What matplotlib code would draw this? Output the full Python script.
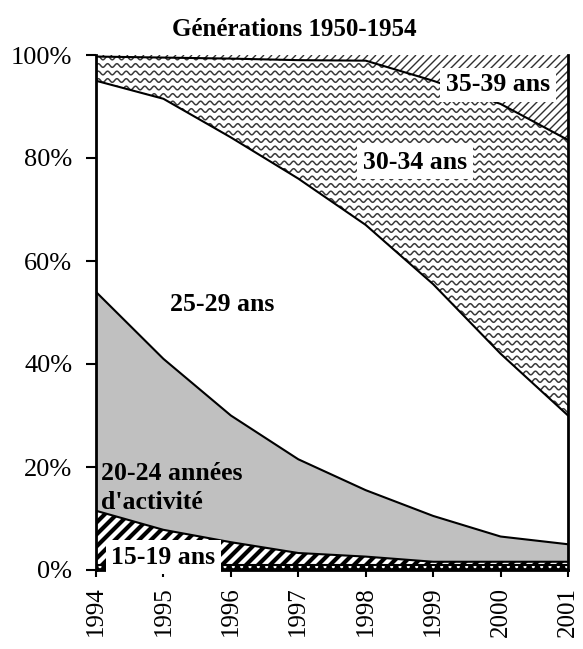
import numpy as np
import matplotlib
matplotlib.use("Agg")
import matplotlib.pyplot as plt
from matplotlib.collections import LineCollection

plt.rcParams['font.family'] = ['Liberation Serif', 'DejaVu Serif']

# years and share (%) of each activity-duration group, stacked bottom to top
years = [1994, 1995, 1996, 1997, 1998, 1999, 2000, 2001]
lt15 = [1.0, 1.0, 1.0, 1.0, 1.0, 1.0, 1.0, 1.0]
a15_19 = [10.5, 6.8, 4.4, 2.3, 1.6, 0.6, 0.6, 0.6]
a20_24 = [42.5, 33.2, 24.6, 18.2, 12.9, 8.9, 4.9, 3.4]
a25_29 = [41.0, 50.5, 54.0, 54.5, 51.5, 45.0, 35.5, 25.0]
a30_34 = [4.7, 8.0, 15.3, 23.0, 31.9, 39.5, 48.5, 53.5]
a35_39 = [0.3, 0.5, 0.7, 1.0, 1.1, 5.0, 9.5, 16.5]

W, H = 583, 649
fig = plt.figure(figsize=(W / 100, H / 100), dpi=100)
L, R, T, B = 96, 568, 55, 570
ax = fig.add_axes([L / W, 1 - B / H, (R - L) / W, (B - T) / H])
pw, ph = R - L, B - T  # axes size in pixels

x = np.array(years)
layers = [lt15, a15_19, a20_24, a25_29, a30_34, a35_39]
cum = np.cumsum(np.array(layers), axis=0)
lows = np.vstack([np.zeros(len(years)), cum[:-1]])

fills = []
for lo, hi in zip(lows, cum):
    fills.append(ax.fill_between(x, lo, hi, facecolor='white', edgecolor='none', zorder=1))

# bottom thin layer: black with white dots
fills[0].set_facecolor('black')
fills[0].set_edgecolor('white')
fills[0].set_hatch('..')
fills[0].set_linewidth(0)
fills[2].set_facecolor('#c0c0c0')


def clip_to(coll, fill):
    coll.set_clip_path(fill.get_paths()[0], ax.transData)


# 15-19: thick black diagonal stripes
segs = []
for x0 in np.arange(-ph, pw, 12):
    segs.append([(x0 / pw, 0), ((x0 + ph) / pw, 1)])
lc = LineCollection(segs, colors='black', linewidths=3.0, transform=ax.transAxes, zorder=2)
ax.add_collection(lc)
clip_to(lc, fills[1])

# 30-34: wavy lines
xs = np.arange(0, pw + 1, 0.5)
segs = []
for y0 in np.arange(2, ph, 7.5):
    ys = y0 + 1.8 * np.sin(2 * np.pi * xs / 9.3)
    segs.append(np.column_stack([xs / pw, ys / ph]))
lc = LineCollection(segs, colors='#3a3a3a', linewidths=1.1, transform=ax.transAxes, zorder=2)
ax.add_collection(lc)
clip_to(lc, fills[4])

# 35-39: thin diagonal lines
segs = []
for x0 in np.arange(-ph, pw, 8):
    segs.append([(x0 / pw, 0), ((x0 + ph) / pw, 1)])
lc = LineCollection(segs, colors='#303030', linewidths=1.0, transform=ax.transAxes, zorder=2)
ax.add_collection(lc)
clip_to(lc, fills[5])

# boundary lines
for hi in cum[:-1]:
    ax.plot(x, hi, color='black', lw=1.5, zorder=3)

ax.set_xlim(1994, 2001)
ax.set_ylim(0, 100)
ax.set_yticks([0, 20, 40, 60, 80, 100])
ax.set_yticklabels(['0%', '20%', '40%', '60%', '80%', '100%'], fontsize=19)
ax.set_xticks(years)
ax.set_xticklabels([str(y) for y in years], rotation=90, fontsize=18)
ax.tick_params(axis='y', direction='out', length=7, width=1.5, pad=10)
ax.tick_params(axis='x', direction='out', length=5, width=1.5, pad=7)
ax.spines['top'].set_visible(False)
for s in ['left', 'right', 'bottom']:
    ax.spines[s].set_linewidth(2)
    ax.spines[s].set_zorder(4)

box = dict(facecolor='white', edgecolor='none', pad=4)
fs = 18.5
ax.text(1999.96, 94.2, '35-39 ans', fontsize=fs, fontweight='bold', ha='center', va='center', bbox=box, zorder=5)
ax.text(1998.73, 79.2, '30-34 ans', fontsize=fs, fontweight='bold', ha='center', va='center', bbox=box, zorder=5)
ax.text(1995.87, 51.5, '25-29 ans', fontsize=fs, fontweight='bold', ha='center', va='center', zorder=5)
ax.text(1994.08, 15.9, "20-24 années\nd'activité", fontsize=fs, fontweight='bold', ha='left', va='center', linespacing=1.3, zorder=5)
ax.text(1995.0, 2.5, '15-19 ans', fontsize=fs, fontweight='bold', ha='center', va='center', bbox=box, zorder=5)

fig.text(0.504, 1 - 29 / H, 'Générations 1950-1954', fontsize=18, fontweight='bold', ha='center', va='center')

fig.savefig('out.png', dpi=100)
